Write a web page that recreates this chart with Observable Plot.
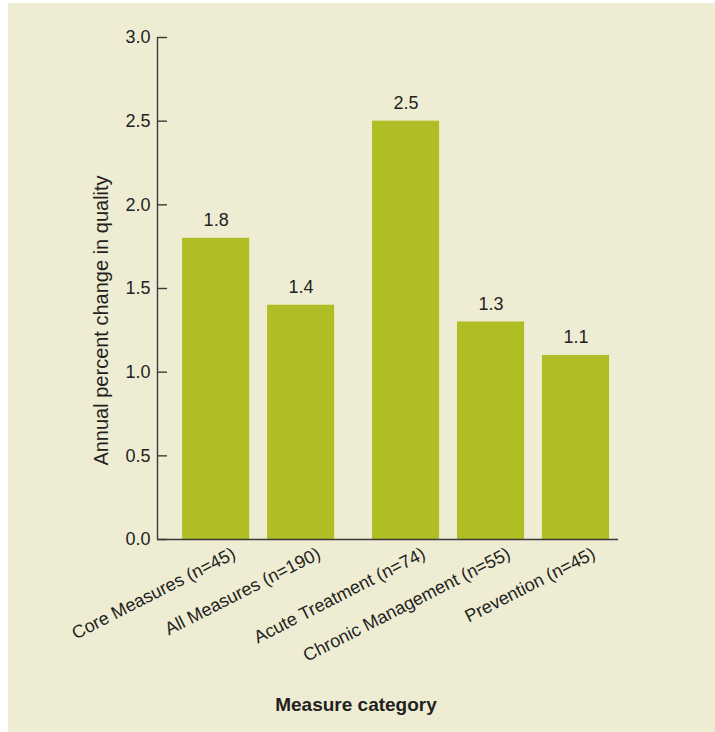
<!DOCTYPE html>
<html>
<head>
<meta charset="utf-8">
<script src="https://cdn.jsdelivr.net/npm/d3@7"></script>
<script src="https://cdn.jsdelivr.net/npm/@observablehq/plot@0.6"></script>
<style>
  html, body { margin: 0; padding: 0; background: #ffffff; }
  #panel { position: absolute; left: 8px; top: 3px; width: 707px; height: 729px; background: #eeedd4; }
</style>
</head>
<body>
<div id="panel"></div>
<script>
const categories = [
  "Core Measures (n=45)",
  "All Measures (n=190)",
  "Acute Treatment (n=74)",
  "Chronic Management (n=55)",
  "Prevention (n=45)"
];
const values = [1.8, 1.4, 2.5, 1.3, 1.1];
const groups = ["Overall", "Overall", "By type", "By type", "By type"];
const yTicks = [0, 0.5, 1.0, 1.5, 2.0, 2.5, 3.0];
const yLabel = "Annual percent change in quality";
const xLabel = "Measure category";

const barColor = "#b0bd24";
const inkColor = "#231f20";
const groupGap = 0.235;

let g = 0;
const data = categories.map((c, i) => {
  if (i > 0 && groups[i] !== groups[i - 1]) g++;
  return { category: c, value: values[i], pos: i + g * groupGap };
});
const xDomain = [data[0].pos - 0.69, data[data.length - 1].pos + 0.5];

const chart = Plot.plot({
  width: 707,
  height: 729,
  marginLeft: 149,
  marginRight: 97,
  marginTop: 34,
  marginBottom: 193,
  style: { background: "transparent", fontFamily: "'Liberation Sans', Arial, Helvetica, sans-serif", fontSize: "18px", color: inkColor },
  x: { domain: xDomain },
  y: { domain: [0, 3] },
  marks: [
    Plot.rectY(data, { x1: d => d.pos - 0.395, x2: d => d.pos + 0.395, y: "value", fill: barColor }),
    Plot.ruleY([0], { stroke: "#3a3a3a", strokeWidth: 1.4 }),
    Plot.ruleX([xDomain[0]], { y1: 0, y2: 3, stroke: "#3a3a3a", strokeWidth: 1.4 }),
    Plot.axisY({ ticks: yTicks, tickSize: 0, tickPadding: 7, tickFormat: d => d.toFixed(1), label: null, fontSize: 18 }),
    Plot.axisY({ ticks: yTicks, tickSize: -10, tickFormat: () => "", label: null, stroke: "#3a3a3a", strokeWidth: 1.4 }),
    Plot.axisX({
      ticks: data.map(d => d.pos),
      tickFormat: p => data.find(d => d.pos === p).category,
      tickRotate: -27, tickSize: 0, tickPadding: 13, dx: 18, label: null, fontSize: 18
    }),
    Plot.text(data, { x: "pos", y: "value", text: d => d.value.toFixed(1), dy: -18, lineAnchor: "middle", fontSize: 18 }),
    Plot.text([yLabel], { frameAnchor: "left", rotate: -90, textAnchor: "middle", lineAnchor: "middle", dx: -56, dy: 32, fontSize: 20 }),
    Plot.text([xLabel], { frameAnchor: "bottom", textAnchor: "middle", lineAnchor: "middle", dx: -32, dy: 165, fontWeight: "bold", fontSize: 19 })
  ]
});
document.getElementById("panel").appendChild(chart);
</script>
</body>
</html>
